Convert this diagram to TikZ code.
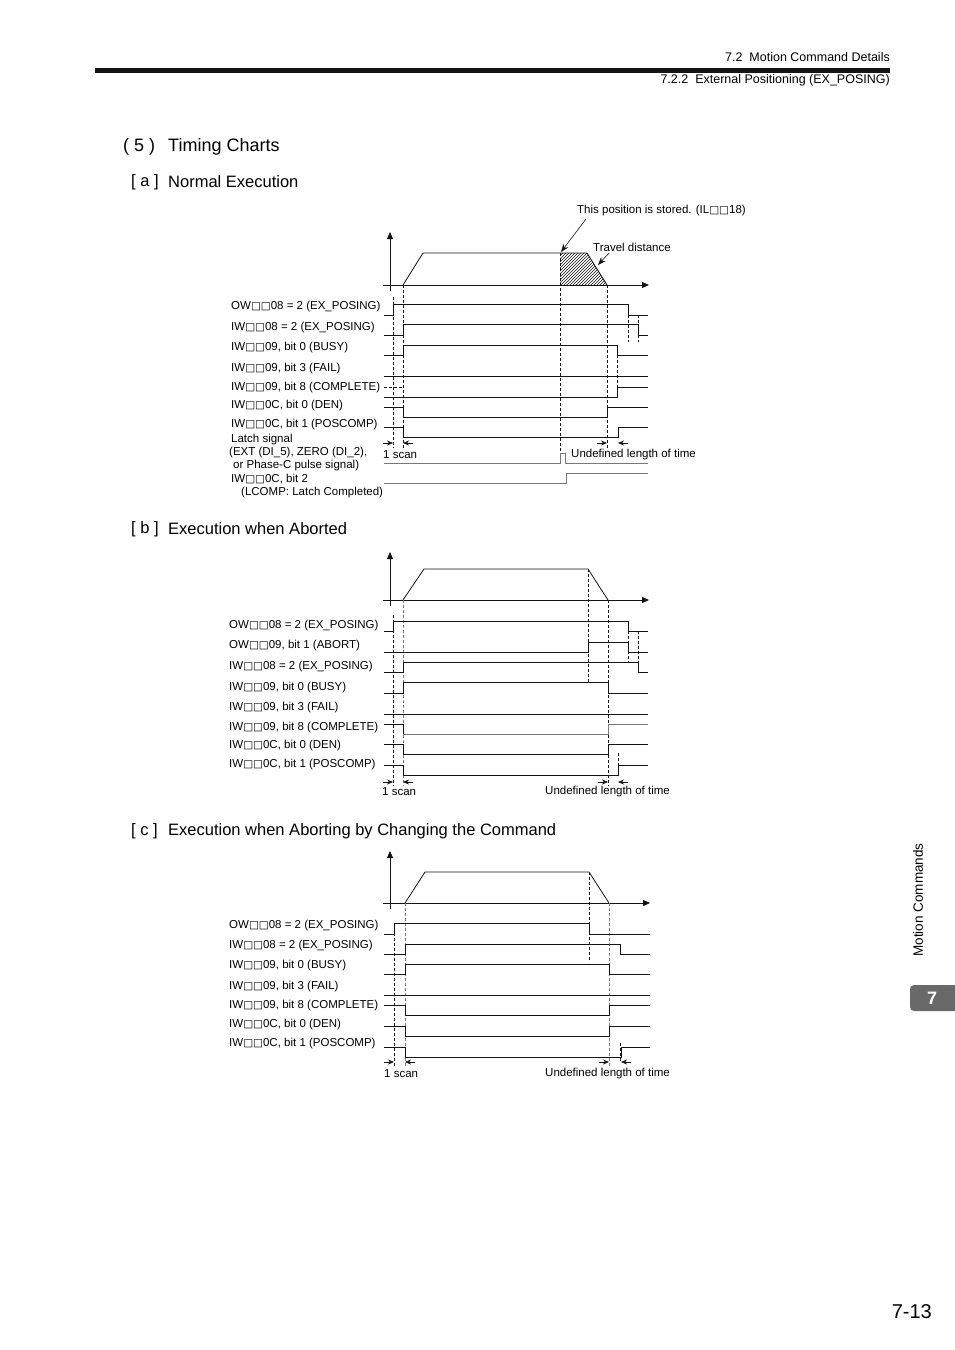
\documentclass[tikz,border=0pt]{standalone}
\usepackage{fontspec}
\setmainfont{Liberation Sans}
\newfontfamily\symfont{DejaVu Sans}
\usepackage{tikz}
\usetikzlibrary{arrows.meta,patterns}
\definecolor{ink}{RGB}{20,20,20}
\definecolor{faint}{RGB}{120,120,120}
\definecolor{tabgray}{RGB}{105,105,105}
\newcommand{\lblsize}{\fontsize{11.5}{13}\selectfont}
\newcommand{\bx}{{\symfont\fontsize{10.5}{12}\selectfont □}}
\tikzset{
  sig/.style={draw=ink,line width=0.8pt},
  sgry/.style={draw=faint,line width=0.8pt},
  guide/.style={draw=ink,line width=0.6pt,dash pattern=on 3pt off 2pt},
  gguide/.style={draw=faint,line width=0.6pt,dash pattern=on 3pt off 2pt},
  axarr/.style={draw=ink,line width=0.8pt,-{Triangle[length=7pt,width=6pt]}},
  scanarr/.style={draw=ink,line width=0.6pt,-{Stealth[length=6pt,width=5pt]}},
  callarr/.style={draw=ink,line width=0.6pt,-{Stealth[length=8pt,width=6pt]}},
  lbl/.style={anchor=west,inner sep=0pt,font=\lblsize},
  head/.style={anchor=west,inner sep=0pt,font=\fontsize{18}{20}\selectfont},
  sub/.style={anchor=west,inner sep=0pt,font=\fontsize{16.5}{18}\selectfont},
}
\begin{document}
\begin{tikzpicture}[x=1pt,y=-1pt]
\useasboundingbox[fill=white] (0,0) rectangle (954,1350);
% page header
\node[anchor=east,inner sep=0pt,font=\fontsize{12.5}{14}\selectfont] (hd1) at (890,57) {7.2\ \ Motion Command Details};
\fill[ink] (95,68) rectangle (890,73);
\node[anchor=east,inner sep=0pt,font=\fontsize{12.5}{14}\selectfont] (hd2) at (890,80) {7.2.2\ \ External Positioning (EX\_POSING)};
\node[head] (secnum) at (123,147) {( 5 )};
\node[head] (sec) at (168,147) {Timing Charts};

% ---------- [a] normal execution ----------
\node[sub] (ta0) at (131,182) {[ a ]};
\node[sub] (ta) at (168,182) {Normal Execution};
\draw[axarr] (390,291) -- (390,232);
\draw[axarr] (383,285) -- (649,285);
\fill[pattern=north east lines,pattern color=ink] (560,253) -- (587,253) -- (607,285) -- (560,285) -- cycle;
\draw[sig] (403,285) -- (423,253) -- (587,253) -- (607,285);
\node[lbl] (stored) at (577,211) {This position is stored. (IL\bx\bx18)};
\coordinate (storedpt) at (561,252);
\draw[callarr] (586,219) -- (storedpt);
\node[lbl] (travel) at (593,247) {Travel distance};
\coordinate (travelpt) at (598,265);
\draw[callarr] (609,253) -- (travelpt);
% guides
\draw[guide] (393,297) -- (393,448);
\draw[guide] (403,285) -- (403,448);
\draw[guide] (560,253) -- (560,455);
\draw[guide] (607,285) -- (607,448);
\draw[guide] (617,355) -- (617,387);
\draw[guide] (628,315) -- (628,342);
\draw[guide] (638,315) -- (638,342);
% signals
\node[lbl] (a1) at (231,307) {OW\bx\bx08 = 2 (EX\_POSING)};
\draw[sig] (384,315) -- (393,315) -- (393,304) -- (628,304) -- (628,315) -- (648,315);
\node[lbl] (a2) at (231,328) {IW\bx\bx08 = 2 (EX\_POSING)};
\draw[sig] (384,335) -- (403,335) -- (403,324) -- (638,324) -- (638,335) -- (648,335);
\node[lbl] (a3) at (231,348) {IW\bx\bx09, bit 0 (BUSY)};
\draw[sig] (384,355) -- (403,355) -- (403,345) -- (617,345) -- (617,355) -- (648,355);
\node[lbl] (a4) at (231,369) {IW\bx\bx09, bit 3 (FAIL)};
\draw[sig] (384,376) -- (648,376);
\node[lbl] (a5) at (231,388) {IW\bx\bx09, bit 8 (COMPLETE)};
\draw[guide] (384,387) -- (403,387);
\draw[sig] (384,397) -- (617,397) -- (617,387) -- (648,387);
\node[lbl] (a6) at (231,406) {IW\bx\bx0C, bit 0 (DEN)};
\draw[sig] (384,407) -- (403,407) -- (403,417) -- (607,417) -- (607,407) -- (648,407);
\node[lbl] (a7) at (231,425) {IW\bx\bx0C, bit 1 (POSCOMP)};
\draw[sig] (384,427) -- (403,427) -- (403,437) -- (618,437) -- (618,427) -- (648,427);
\draw[scanarr] (383,443) -- (393,443);
\draw[scanarr] (413,443) -- (403,443);
\draw[scanarr] (597,443) -- (607,443);
\draw[scanarr] (628,443) -- (618,443);
\node[lbl] (a1s) at (383,455) {1 scan};
\node[lbl] (aund) at (571,455) {Undefined length of time};
\node[lbl,align=left] (a8) at (229,453) {\hspace{2pt}Latch signal\\(EXT (DI\_5), ZERO (DI\_2),\\\hspace{4pt}or Phase-C pulse signal)};
\draw[sgry] (384,463) -- (560,463) -- (560,453) -- (565,453) -- (565,463) -- (648,463);
\node[lbl,align=left] (a9) at (231,486) {IW\bx\bx0C, bit 2\\\hspace{10pt}(LCOMP: Latch Completed)};
\draw[sgry] (384,483) -- (566,483) -- (566,473) -- (648,473);

% ---------- [b] execution when aborted ----------
\node[sub] (tb0) at (131,529) {[ b ]};
\node[sub] (tb) at (168,529) {Execution when Aborted};
\draw[axarr] (390,606) -- (390,552);
\draw[axarr] (383,600) -- (649,600);
\draw[sig] (403,600) -- (424,569) -- (588,569) -- (608,600);
% guides
\draw[guide] (393,615) -- (393,786);
\draw[gguide] (403,600) -- (403,786);
\draw[guide] (588,569) -- (588,682);
\draw[guide] (608,600) -- (608,786);
\draw[guide] (628,631) -- (628,662);
\draw[guide] (638,631) -- (638,672);
\draw[guide] (618,753) -- (618,775);
% signals
\node[lbl] (b1) at (229,626) {OW\bx\bx08 = 2 (EX\_POSING)};
\draw[sig] (384,631) -- (393,631) -- (393,621) -- (628,621) -- (628,631) -- (648,631);
\node[lbl] (b2) at (229,646) {OW\bx\bx09, bit 1 (ABORT)};
\draw[sig] (384,652) -- (588,652) -- (588,642) -- (628,642) -- (628,652) -- (648,652);
\node[lbl] (b3) at (229,667) {IW\bx\bx08 = 2 (EX\_POSING)};
\draw[sig] (384,672) -- (403,672) -- (403,662) -- (638,662) -- (638,672) -- (648,672);
\node[lbl] (b4) at (229,688) {IW\bx\bx09, bit 0 (BUSY)};
\draw[sig] (384,693) -- (403,693) -- (403,682) -- (608,682) -- (608,693) -- (648,693);
\node[lbl] (b5) at (229,708) {IW\bx\bx09, bit 3 (FAIL)};
\draw[sig] (384,714) -- (648,714);
\node[lbl] (b6) at (229,728) {IW\bx\bx09, bit 8 (COMPLETE)};
\draw[sig] (384,724) -- (403,724) -- (403,734);
\draw[sgry] (403,734) -- (608,734) -- (608,724) -- (648,724);
\node[lbl] (b7) at (229,746) {IW\bx\bx0C, bit 0 (DEN)};
\draw[sig] (384,744) -- (403,744) -- (403,754) -- (608,754) -- (608,744) -- (648,744);
\node[lbl] (b8) at (229,765) {IW\bx\bx0C, bit 1 (POSCOMP)};
\draw[sig] (384,765) -- (403,765) -- (403,775) -- (618,775) -- (618,765) -- (648,765);
\draw[scanarr] (383,782) -- (393,782);
\draw[scanarr] (413,782) -- (403,782);
\draw[scanarr] (598,782) -- (608,782);
\draw[scanarr] (628,782) -- (618,782);
\node[lbl] (b1s) at (382,792) {1 scan};
\node[lbl] (bund) at (545,792) {Undefined length of time};

% ---------- [c] aborting by changing the command ----------
\node[sub] (tc0) at (131,831) {[ c ]};
\node[sub] (tc) at (168,831) {Execution when Aborting by Changing the Command};
\draw[axarr] (390,909) -- (390,851);
\draw[axarr] (383,903) -- (650,903);
\draw[sig] (405,903) -- (425,872) -- (589,872) -- (609,903);
% guides
\draw[guide] (394,928) -- (394,1066);
\draw[gguide] (405,903) -- (405,1066);
\draw[guide] (589,872) -- (589,962);
\draw[gguide] (609,903) -- (609,1066);
\draw[guide] (620,1043) -- (620,1062);
% signals
\node[lbl] (c1) at (229,926) {OW\bx\bx08 = 2 (EX\_POSING)};
\draw[sig] (384,934) -- (394,934) -- (394,923) -- (589,923) -- (589,934) -- (650,934);
\node[lbl] (c2) at (229,946) {IW\bx\bx08 = 2 (EX\_POSING)};
\draw[sig] (384,954) -- (405,954) -- (405,944) -- (620,944) -- (620,954) -- (650,954);
\node[lbl] (c3) at (229,966) {IW\bx\bx09, bit 0 (BUSY)};
\draw[sig] (384,974) -- (405,974) -- (405,964) -- (609,964) -- (609,974) -- (650,974);
\node[lbl] (c4) at (229,987) {IW\bx\bx09, bit 3 (FAIL)};
\draw[sig] (384,995) -- (650,995);
\node[lbl] (c5) at (229,1006) {IW\bx\bx09, bit 8 (COMPLETE)};
\draw[sig] (384,1005) -- (405,1005) -- (405,1015) -- (609,1015) -- (609,1005) -- (650,1005);
\node[lbl] (c6) at (229,1025) {IW\bx\bx0C, bit 0 (DEN)};
\draw[sig] (384,1026) -- (405,1026) -- (405,1036) -- (609,1036) -- (609,1026) -- (650,1026);
\node[lbl] (c7) at (229,1044) {IW\bx\bx0C, bit 1 (POSCOMP)};
\draw[sig] (384,1047) -- (405,1047) -- (405,1057) -- (621,1057) -- (621,1047) -- (650,1047);
\draw[scanarr] (384,1062) -- (394,1062);
\draw[scanarr] (415,1062) -- (405,1062);
\draw[scanarr] (599,1062) -- (609,1062);
\draw[scanarr] (631,1062) -- (621,1062);
\node[lbl] (c1s) at (384,1074) {1 scan};
\node[lbl] (cund) at (545,1074) {Undefined length of time};

% side tab and page number
\node[rotate=90,inner sep=0pt,font=\fontsize{13.5}{15}\selectfont] (side) at (918,900) {Motion Commands};
\fill[tabgray,rounded corners=4pt] (910,985) rectangle (962,1011);
\node[text=white,font=\fontsize{18}{20}\selectfont\bfseries] (tab) at (932,998) {7};
\node[anchor=east,inner sep=0pt,font=\fontsize{20}{22}\selectfont] (pg) at (932,1312) {7-13};
\end{tikzpicture}
\end{document}
